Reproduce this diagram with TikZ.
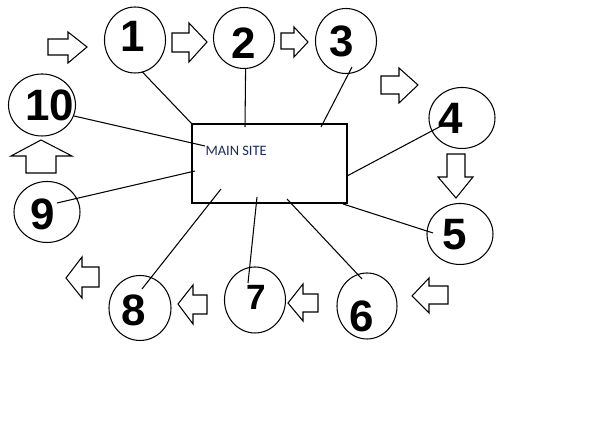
\documentclass[tikz,border=0pt]{standalone}
\usepackage{fontspec}
\usetikzlibrary{shapes.geometric,calc}
\newfontfamily\handfont{Liberation Sans}
\newfontfamily\labelfont{Carlito}
\definecolor{sitetext}{RGB}{30,42,95}

\begin{document}
\begin{tikzpicture}[x=0.02cm,y=-0.02cm,line width=0.6pt,
	spot/.style 2 args={draw,ellipse,inner sep=0pt,outer sep=0pt,minimum width=#1*0.02cm,minimum height=#2*0.02cm},
	digit/.style={font=\handfont\bfseries\fontsize{25}{25}\selectfont,inner sep=0pt},
	site/.style={draw,rectangle,inner sep=0pt,outer sep=0pt,minimum width=3.1cm,minimum height=1.58cm}]
	\fill[white] (0,0) rectangle (600,421);
	\node[site] (site) at (269.5,163.5) {};
	\node[anchor=west,inner sep=0pt,text=sitetext,font=\labelfont\fontsize{8.2}{9}\selectfont] (title) at (205,151) {MAIN SITE};
	\node[spot={61}{66}] (c1) at (135,40) {};
	\node[spot={61}{61}] (c2) at (244,38) {};
	\node[spot={61}{65}] (c3) at (346,41) {};
	\node[spot={66}{61}] (c4) at (462,118) {};
	\node[spot={66}{61}] (c5) at (460,234) {};
	\node[spot={60}{66}] (c6) at (367,306) {};
	\node[spot={61}{66}] (c7) at (255,300) {};
	\node[spot={62}{65}] (c8) at (140,308) {};
	\node[spot={66}{61}] (c9) at (47,212) {};
	\node[spot={67}{62}] (c10) at (42,105) {};
	\node[digit] (d1) at (133,36) {1};
	\node[digit] (d2) at (244,43) {2};
	\node[digit] (d3) at (342,41) {3};
	\node[digit] (d4) at (451,118) {4};
	\node[digit] (d5) at (455,235) {5};
	\node[digit] (d6) at (362,316) {6};
	\node[digit,font=\handfont\bfseries\fontsize{20}{20}\selectfont] (d7) at (256,297) {7};
	\node[digit] (d8) at (134,310) {8};
	\node[digit] (d9) at (43,214) {9};
	\node[digit] (d10) at (50,105) {10};
	\draw (c1.283) -- (site.north west);
	\draw (c2.273) -- ($(site.north west)+(53,3)$);
	\draw ($(c3)+(6,26)$) -- ($(site.north west)+(129,3)$);
	\draw ($(c4)+(-19,7)$) -- ($(site.north east)+(0,52)$);
	\draw ($(site.south east)+(-4,1)$) -- ($(c5)+(-27,-1)$);
	\draw ($(site.south west)+(95,-4)$) -- ($(c6)+(-5,-27)$);
	\draw ($(site.south west)+(65,-6)$) -- ($(c7)+(-7,-17)$);
	\draw ($(site.south west)+(29,-14)$) -- ($(c8)+(2,-19)$);
	\draw ($(site.north west)+(3,47)$) -- ($(c9)+(10,-9)$);
	\draw ($(c10)+(32,11)$) -- ($(site.north west)+(13,22)$);
	\draw (48,39) -- (68,39) -- (68,32) -- (87,47) -- (68,63) -- (68,55) -- (48,55) -- cycle;
	\draw (172,33) -- (189,33) -- (189,23) -- (207,42) -- (189,62) -- (189,52) -- (172,52) -- cycle;
	\draw (281,33) -- (294,33) -- (294,27) -- (308,42) -- (294,57) -- (294,49) -- (281,49) -- cycle;
	\draw (381,76) -- (399,76) -- (399,68) -- (418,85) -- (399,103) -- (399,94) -- (381,94) -- cycle;
	\draw (447,154) -- (465,154) -- (465,177) -- (473,177) -- (456,198) -- (438,177) -- (447,177) -- cycle;
	\draw (448,286) -- (429,286) -- (429,278) -- (412,296) -- (429,313) -- (429,304) -- (448,304) -- cycle;
	\draw (318,294) -- (303,294) -- (303,284) -- (288,303) -- (303,321) -- (303,312) -- (318,312) -- cycle;
	\draw (207,295) -- (193,295) -- (193,285) -- (178,304) -- (193,324) -- (193,314) -- (207,314) -- cycle;
	\draw (99,267) -- (82,267) -- (82,257) -- (66,278) -- (82,298) -- (82,287) -- (99,287) -- cycle;
	\draw (26,173) -- (26,156) -- (11,156) -- (41,140) -- (72,156) -- (56,156) -- (56,173) -- cycle;
\end{tikzpicture}
\end{document}
